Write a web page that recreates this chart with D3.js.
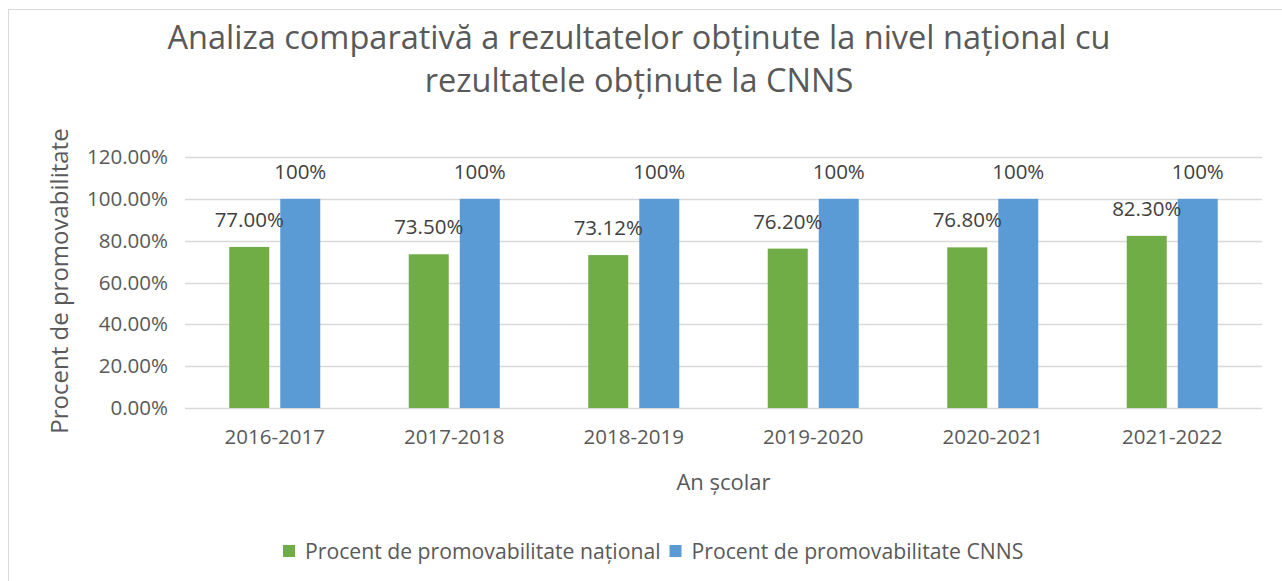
<!DOCTYPE html>
<html lang="ro">
<head>
    <meta charset="UTF-8">
    <title>Analiza comparativă</title>
    <script src="https://d3js.org/d3.v7.min.js"></script>
    <style>
        body { margin: 0; background: #fff; font-family: "Open Sans", sans-serif; }
        svg text { fill: #595959; }
    </style>
</head>
<body>
    <svg id="chart" width="1282" height="581"></svg>
    <script>
        // Data
        const years = ['2016-2017', '2017-2018', '2018-2019', '2019-2020', '2020-2021', '2021-2022'];
        const national = [0.77, 0.735, 0.7312, 0.762, 0.768, 0.823];
        const cnns = [1, 1, 1, 1, 1, 1];
        const seriesNames = ['Procent de promovabilitate naţional', 'Procent de promovabilitate CNNS'];
        const seriesColors = ['#70AD47', '#5B9BD5'];
        const yTicks = [0, 0.2, 0.4, 0.6, 0.8, 1.0, 1.2];
        const titleLines = ['Analiza comparativă a rezultatelor obţinute la nivel naţional cu', 'rezultatele obţinute la CNNS'];

        const svg = d3.select('#chart');

        // chart frame
        svg.append('rect')
            .attr('x', 8.5).attr('y', 9.5)
            .attr('width', 1320).attr('height', 620)
            .attr('fill', 'none').attr('stroke', '#d9d9d9');

        const plot = { left: 185, right: 1262, top: 157, bottom: 408 };

        const x0 = d3.scaleBand().domain(years).range([plot.left, plot.right]).paddingInner(0.493).paddingOuter(0.2465);
        const x1 = d3.scaleBand().domain([0, 1]).range([0, x0.bandwidth()]).paddingInner(0.216);
        const y = d3.scaleLinear().domain([0, 1.2]).range([plot.bottom, plot.top]);

        // title
        svg.append('g').selectAll('text')
            .data(titleLines)
            .enter().append('text')
            .attr('x', 639)
            .attr('y', (d, i) => 49 + i * 43)
            .attr('text-anchor', 'middle')
            .attr('font-size', '32.5px')
            .text(d => d);

        // gridlines
        svg.append('g').selectAll('line')
            .data(yTicks)
            .enter().append('line')
            .attr('x1', plot.left).attr('x2', plot.right)
            .attr('y1', d => Math.round(y(d)) + 0.5).attr('y2', d => Math.round(y(d)) + 0.5)
            .attr('stroke', '#d9d9d9').attr('stroke-width', 1.5);

        // y axis labels
        const yAxis = svg.append('g')
            .attr('transform', `translate(${plot.left},0)`)
            .call(d3.axisLeft(y).tickValues(yTicks).tickFormat(d3.format('.2%')).tickSize(0).tickPadding(17));
        yAxis.select('.domain').remove();
        yAxis.selectAll('text').attr('font-size', '20.5px').attr('font-family', '"Open Sans", sans-serif').attr('fill', '#595959');

        // x axis labels
        const xAxis = svg.append('g')
            .attr('transform', `translate(0,${plot.bottom})`)
            .call(d3.axisBottom(x0).tickSize(0).tickPadding(21));
        xAxis.select('.domain').remove();
        xAxis.selectAll('text').attr('font-size', '20.5px').attr('font-family', '"Open Sans", sans-serif').attr('fill', '#595959');

        // bars
        const rows = years.map((yr, i) => ({ year: yr, values: [national[i], cnns[i]] }));
        const groups = svg.append('g').selectAll('g')
            .data(rows)
            .enter().append('g')
            .attr('transform', d => `translate(${x0(d.year)},0)`);

        groups.selectAll('rect')
            .data(d => d.values.map((v, k) => ({ k, v })))
            .enter().append('rect')
            .attr('x', d => x1(d.k))
            .attr('y', d => y(d.v))
            .attr('width', x1.bandwidth())
            .attr('height', d => y(0) - y(d.v))
            .attr('fill', d => seriesColors[d.k]);

        // data labels
        const fmtNat = d3.format('.2%');
        const fmtCnns = d3.format('.0%');
        groups.selectAll('text')
            .data(d => d.values.map((v, k) => ({ k, v })))
            .enter().append('text')
            .attr('x', d => x1(d.k) + x1.bandwidth() / 2)
            .attr('y', d => y(d.v) - 20)
            .attr('text-anchor', 'middle')
            .attr('font-size', '20.5px')
            .style('fill', '#404040')
            .text(d => d.k === 0 ? fmtNat(d.v) : fmtCnns(d.v));

        // axis titles
        svg.append('text')
            .attr('transform', 'translate(68,281) rotate(-90)')
            .attr('text-anchor', 'middle')
            .attr('font-size', '24px')
            .text('Procent de promovabilitate');

        svg.append('text')
            .attr('x', (plot.left + plot.right) / 2)
            .attr('y', 490)
            .attr('text-anchor', 'middle')
            .attr('font-size', '22px')
            .text('An şcolar');

        // legend
        const legend = svg.append('g').attr('transform', 'translate(283,551)');
        let lx = 0;
        seriesNames.forEach((name, i) => {
            legend.append('rect')
                .attr('x', lx).attr('y', -6)
                .attr('width', 12).attr('height', 12)
                .attr('fill', seriesColors[i]);
            const t = legend.append('text')
                .attr('x', lx + 22)
                .attr('y', 7.5)
                .attr('font-size', '21.2px')
                .text(name);
            lx += 22 + t.node().getComputedTextLength() + 9;
        });
    </script>
</body>
</html>
